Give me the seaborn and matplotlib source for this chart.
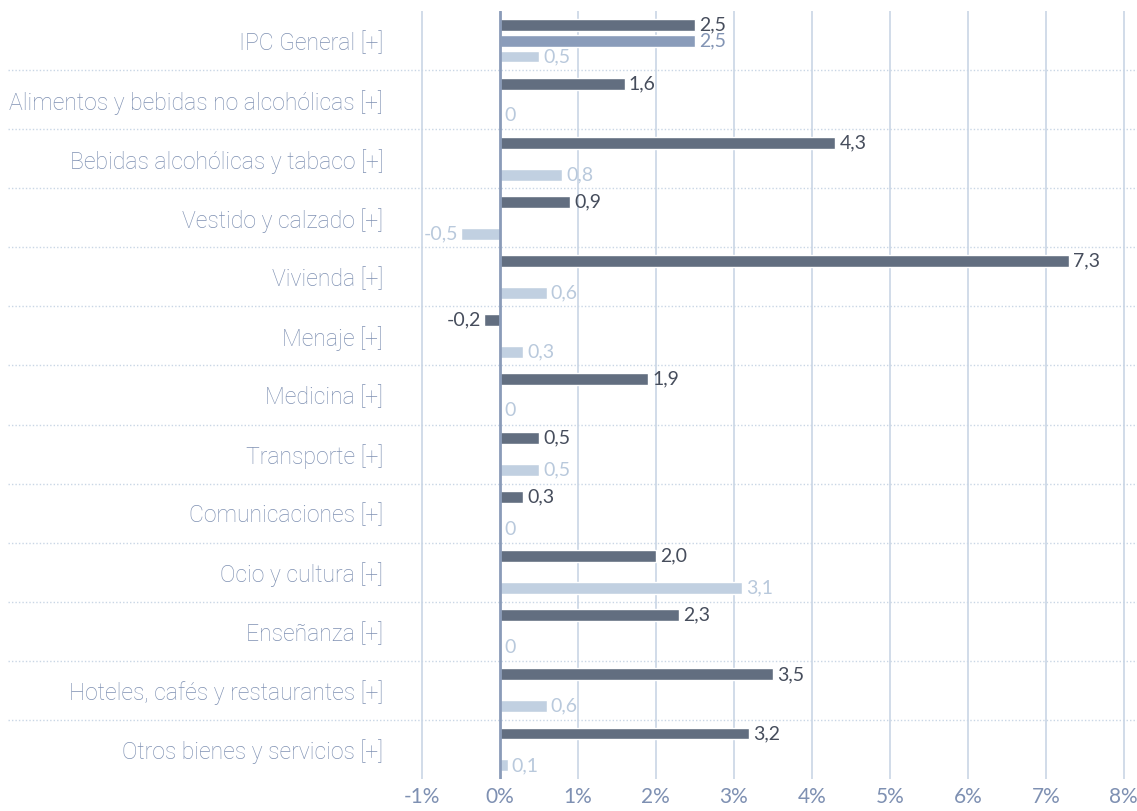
import numpy as np
import pandas as pd
import seaborn as sns
import matplotlib.pyplot as plt

# datos
categorias = ["IPC General [+]", "Alimentos y bebidas no alcohólicas [+]",
              "Bebidas alcohólicas y tabaco [+]", "Vestido y calzado [+]",
              "Vivienda [+]", "Menaje [+]", "Medicina [+]", "Transporte [+]",
              "Comunicaciones [+]", "Ocio y cultura [+]", "Enseñanza [+]",
              "Hoteles, cafés y restaurantes [+]", "Otros bienes y servicios [+]"]
serie_1 = [2.5, 1.6, 4.3, 0.9, 7.3, -0.2, 1.9, 0.5, 0.3, 2.0, 2.3, 3.5, 3.2]
serie_2 = [2.5, np.nan, np.nan, np.nan, np.nan, np.nan, np.nan, np.nan, np.nan, np.nan, np.nan, np.nan, np.nan]
serie_3 = [0.5, 0.0, 0.8, -0.5, 0.6, 0.3, 0.0, 0.5, 0.0, 3.1, 0.0, 0.6, 0.1]
series = ["s1", "s2", "s3"]
ticks = [-1, 0, 1, 2, 3, 4, 5, 6, 7, 8]

colores = ["#626e80", "#8a9cba", "#c1d0e1"]
colores_txt = ["#464d5c", "#8294b4", "#b9c9dc"]
gris_txt = "#7e90b2"
linea = "#c9d6e5"

df = pd.DataFrame({
    "categoria": categorias * 3,
    "serie": np.repeat(series, len(categorias)),
    "valor": serie_1 + serie_2 + serie_3,
})

sns.set_style("white")
plt.rcParams["font.family"] = ["Roboto", "DejaVu Sans"]

fig = plt.figure(figsize=(11.37, 8.11), dpi=100)
ax = fig.add_axes([400 / 1137, 32 / 811, 737 / 1137, 768 / 811])

sns.barplot(data=df, y="categoria", x="valor", hue="serie", hue_order=series,
            order=categorias, orient="h", palette=colores, width=0.81, gap=0.25,
            legend=False, saturation=1, ax=ax)

ax.set_xlim(-1.28, 8.17)
ax.set_ylim(len(categorias) - 0.5, -0.5)
ax.set_xticks(ticks)
ax.set_xticklabels([f"{t}%" for t in ticks], fontsize=15, color=gris_txt,
                   family=["Lato", "DejaVu Sans"])
ax.tick_params(axis="x", length=0, pad=6)
ax.tick_params(axis="y", length=0, pad=12)
for lab in ax.get_yticklabels():
    lab.set_fontsize(16.6)
    lab.set_color(gris_txt)
    lab.set_fontweight("light")
ax.set_xlabel("")
ax.set_ylabel("")
for s in ax.spines.values():
    s.set_visible(False)

# rejilla vertical
for t in ticks:
    if t == 0:
        continue
    ax.axvline(t, color=linea, lw=1.2, zorder=0)
ax.axvline(0, color="#8a9bb8", lw=2, zorder=3)

# separadores punteados
for i in range(len(categorias) - 1):
    ax.axhline(i + 0.5, xmin=-0.532, xmax=1, color=linea, lw=1,
               ls=(0, (1, 1.5)), clip_on=False, zorder=0)

# etiquetas de valor
for k, cont in enumerate(ax.containers):
    for bar in cont:
        w = bar.get_width()
        if np.isnan(w):
            continue
        yc = bar.get_y() + bar.get_height() / 2
        txt = f"{w:.1f}".replace(".", ",") if w != 0 else "0"
        if w < 0:
            ax.annotate(txt, (w, yc), xytext=(-2, 0), textcoords="offset points",
                        ha="right", va="center", fontsize=14, color=colores_txt[k],
                        family=["Lato", "DejaVu Sans"])
        else:
            ax.annotate(txt, (w, yc), xytext=(3, 0), textcoords="offset points",
                        ha="left", va="center", fontsize=14, color=colores_txt[k],
                        family=["Lato", "DejaVu Sans"])

fig.savefig("out.png", dpi=100)
